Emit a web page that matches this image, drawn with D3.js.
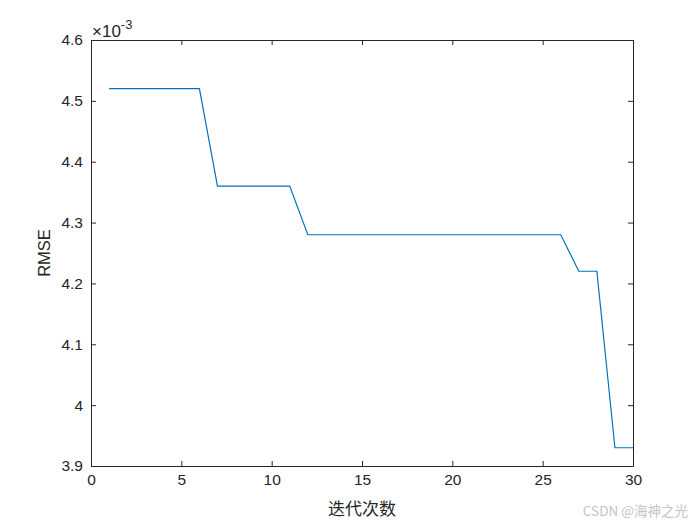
<!DOCTYPE html>
<html>
<head>
<meta charset="utf-8">
<script src="https://cdn.jsdelivr.net/npm/d3@7"></script>
<style>
body { margin: 0; background: #fff; }
text { font-family: Arial, "Liberation Sans", sans-serif; }
</style>
</head>
<body>
<div id="graphicContainer"></div>
<script>
// iteration number and RMSE (x1e-3)
var iters = d3.range(1, 31);
var rmse = [4.52, 4.52, 4.52, 4.52, 4.52, 4.52,
	4.36, 4.36, 4.36, 4.36, 4.36,
	4.28, 4.28, 4.28, 4.28, 4.28, 4.28, 4.28, 4.28, 4.28, 4.28, 4.28, 4.28, 4.28, 4.28, 4.28,
	4.22, 4.22,
	3.93, 3.93];
var xTicks = [0, 5, 10, 15, 20, 25, 30];
var yTicks = [3.9, 4, 4.1, 4.2, 4.3, 4.4, 4.5, 4.6];

var width = 700, height = 525;
var margin = {top: 40, right: 67, bottom: 59, left: 91};

var svg = d3.select("#graphicContainer").append("svg")
	.attr("width", width)
	.attr("height", height);

var x = d3.scaleLinear().domain([0, 30]).range([margin.left, width - margin.right]);
var y = d3.scaleLinear().domain([3.9, 4.6]).range([height - margin.bottom, margin.top]);

var data = iters.map((d, i) => ({it: d, v: rmse[i]}));

// axes with inward ticks
var tk = 5;
var fmtY = d => (d === 4 ? "4" : d3.format(".1f")(d));

svg.append("g")
	.attr("transform", "translate(0," + y.range()[0] + ")")
	.call(d3.axisBottom(x).tickValues(xTicks).tickSize(-tk).tickPadding(8).tickSizeOuter(0))
	.call(g => g.selectAll("text").style("font-size", "15.5px").attr("fill", "#262626"));

svg.append("g")
	.attr("transform", "translate(0," + y.range()[1] + ")")
	.call(d3.axisTop(x).tickValues(xTicks).tickSize(-tk).tickFormat("").tickSizeOuter(0));

svg.append("g")
	.attr("transform", "translate(" + x.range()[0] + ",0)")
	.call(d3.axisLeft(y).tickValues(yTicks).tickSize(-tk).tickPadding(8).tickFormat(fmtY).tickSizeOuter(0))
	.call(g => g.selectAll("text").style("font-size", "15.5px").attr("fill", "#262626"));

svg.append("g")
	.attr("transform", "translate(" + x.range()[1] + ",0)")
	.call(d3.axisRight(y).tickValues(yTicks).tickSize(-tk).tickFormat("").tickSizeOuter(0));

svg.selectAll(".domain").attr("stroke", "#262626");
svg.selectAll(".tick line").attr("stroke", "#262626");

// line
svg.append("path")
	.datum(data)
	.attr("fill", "none")
	.attr("stroke", "#0072BD")
	.attr("stroke-width", 1.2)
	.attr("d", d3.line().x(d => x(d.it)).y(d => y(d.v)));

// exponent label
var ex = svg.append("text")
	.attr("x", x.range()[0] + 1)
	.attr("y", margin.top - 3)
	.style("font-size", "17px")
	.attr("fill", "#262626");
ex.append("tspan").text("\u00d710");
ex.append("tspan").attr("dy", -8).style("font-size", "13px").text("-3");

// axis titles
svg.append("text")
	.attr("x", (x.range()[0] + x.range()[1]) / 2)
	.attr("y", 515)
	.attr("text-anchor", "middle")
	.style("font-size", "17px")
	.attr("fill", "#262626")
	.style("font-family", "'Noto Sans CJK SC', sans-serif")
	.text("迭代次数");

svg.append("text")
	.attr("transform", "translate(50," + (y.range()[0] + y.range()[1]) / 2 + ") rotate(-90)")
	.attr("text-anchor", "middle")
	.style("font-size", "16.5px")
	.attr("fill", "#262626")
	.text("RMSE");

// watermark
svg.append("text")
	.attr("x", 688)
	.attr("y", 516)
	.attr("text-anchor", "end")
	.style("font-size", "13.5px")
	.attr("fill", "#c4c4c4")
	.style("font-family", "'Noto Sans CJK SC', sans-serif")
	.text("CSDN @海神之光");
</script>
</body>
</html>
